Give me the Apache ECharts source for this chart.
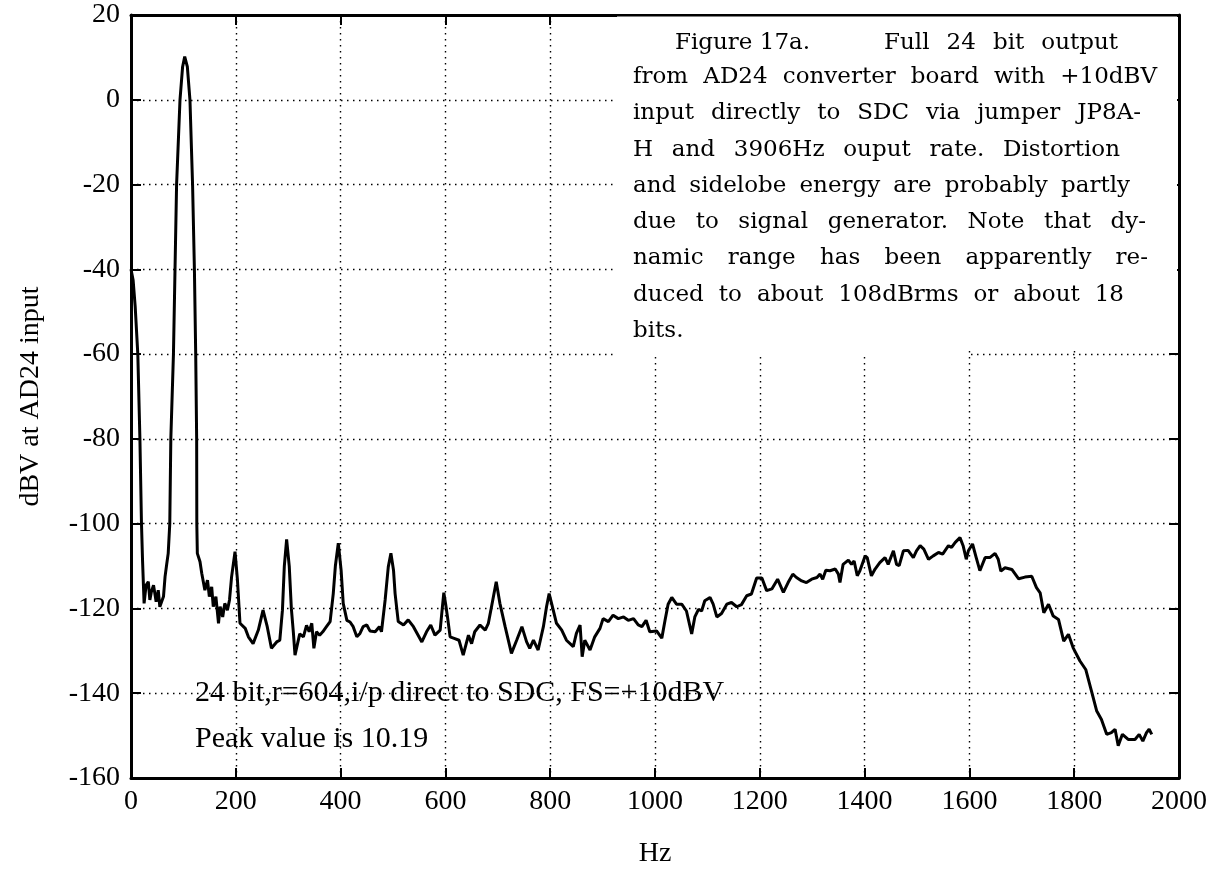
<!DOCTYPE html>
<html>
<head>
<meta charset="utf-8">
<title>Figure 17a - AD24 full 24 bit output</title>
<script src="https://cdn.jsdelivr.net/npm/echarts@6/dist/echarts.min.js"></script>
<style>
  html, body { margin: 0; padding: 0; background: #fff; }
  #chart { width: 1214px; height: 880px; }
</style>
</head>
<body>
<div id="chart"></div>
<script>
// spectrum: frequency (Hz) and level (dBV at AD24 input)
const freqHz = [
  0, 4, 8, 13, 17, 20, 22, 25, 27, 29, 33, 36, 39, 43, 48, 52, 55, 62, 65, 68,
  71, 74, 76, 81, 84, 87, 93.5, 98.5, 102.5, 107.5, 112.5, 117.5, 121, 123.5, 125.3, 125.6, 126.6, 131.7, 135, 141,
  146, 149.5, 154, 157, 162, 167, 170, 175, 179, 184, 188, 192, 198.5, 203, 208, 218, 224, 233, 243, 252,
  260, 268, 278, 284, 289, 292.6, 297, 302, 306, 310, 313, 322, 329, 335, 340, 345, 349, 354, 360, 366,
  373, 380, 386, 390, 395.6, 401, 405, 412, 418, 424, 431, 437, 443, 450, 456, 466, 474, 478, 485, 491,
  496, 501, 504, 510, 520, 529, 539, 555, 564, 572, 580, 590, 594, 597, 600.5, 604, 609, 618, 626, 634,
  644, 650, 656, 666, 676, 682, 688, 697, 704, 714, 726, 736, 746, 755, 761, 768, 777, 787, 793, 798,
  805, 812, 822, 831, 844, 850, 857, 861, 866, 876, 885, 895, 901, 911, 920, 930, 940, 949, 959, 968,
  975, 983, 990, 1003, 1013, 1019, 1025, 1032, 1041, 1051, 1060, 1070, 1076, 1083, 1089, 1095, 1105, 1111, 1118, 1127,
  1137, 1146, 1156, 1165, 1175, 1184, 1194, 1204, 1213, 1223, 1234, 1245, 1254, 1263, 1270, 1280, 1289, 1299, 1309, 1315,
  1320, 1326, 1334, 1344, 1350, 1353, 1359, 1369, 1375, 1380, 1386, 1391, 1401, 1405, 1413, 1420, 1429, 1439, 1445, 1455,
  1461, 1466, 1474, 1483, 1493, 1499, 1506, 1513, 1522, 1531, 1541, 1549, 1560, 1566, 1573, 1582, 1588, 1594, 1598, 1606,
  1613, 1620, 1630, 1639, 1649, 1655, 1660, 1668, 1681, 1694, 1706, 1719, 1728, 1735, 1742, 1751, 1760, 1770, 1780, 1789,
  1798, 1811, 1822, 1833, 1843, 1852, 1862, 1871, 1878, 1884, 1892, 1903, 1916, 1924, 1931, 1938, 1943, 1948
];
const levelDbv = [
  -40, -42.5, -48.8, -60, -80, -100, -108.6, -118.8, -116.5, -114.5, -113.7, -118, -116, -114.5, -118.4, -115.7, -119.6, -117.2, -112.5, -109.7,
  -107, -100, -80, -60, -40, -20, 0, 7.8, 10.19, 7.8, 0, -20, -40, -60, -80, -100, -107, -109, -111.7, -115.7,
  -113.3, -117.2, -114.9, -119.6, -117.2, -123.5, -119.6, -122, -118.8, -120.4, -118, -112.5, -106.6, -113, -123.5, -124.7, -126.7, -128.3, -125.1, -120.4,
  -124.3, -129.4, -127.9, -127.5, -120.4, -110, -103.7, -110, -120, -125.9, -131, -126, -126.7, -124, -125.5, -123.5, -129.4, -125.5, -126.3, -125.5,
  -124.3, -123.1, -116.5, -110, -104.6, -111, -118.8, -122.8, -123.2, -124.3, -126.7, -125.9, -124.3, -123.9, -125.3, -125.5, -124.3, -125.5, -118, -110.2,
  -107, -111, -116.5, -123.1, -123.9, -122.7, -124.3, -127.9, -125.5, -123.9, -126.3, -125.1, -120, -116.3, -119, -122, -126.7, -127.1, -127.5, -131,
  -126.3, -128.3, -125.5, -123.9, -125.1, -123.5, -119.6, -113.7, -118.8, -124.3, -130.6, -127.5, -124.3, -127.9, -129.4, -127.5, -129.8, -124.3, -119.6, -116.5,
  -120, -123.5, -125.1, -127.5, -129, -125.9, -123.9, -131.4, -127.5, -129.8, -126.7, -124.7, -122.4, -123.1, -121.6, -122.4, -122, -122.8, -122.4, -123.9,
  -124.3, -122.8, -125.5, -125.3, -127, -122.9, -119, -117.4, -119, -119, -120.6, -126, -122, -120.2, -120.6, -118.2, -117.4, -119, -122, -121.2,
  -119, -118.6, -119.6, -119.1, -117, -116.6, -112.8, -112.8, -115.8, -115.4, -113.1, -116.2, -113.9, -111.9, -112.7, -113.5, -113.9, -113.1, -112.7, -111.9,
  -113.1, -111, -111.1, -110.7, -111.9, -113.9, -109.6, -108.6, -109.6, -108.8, -112.3, -111.1, -107.6, -108, -112.3, -110.7, -109.2, -108, -109.6, -106.4,
  -109.6, -109.9, -106.4, -106.3, -108, -106.4, -105.2, -106, -108.4, -107.6, -106.8, -107.2, -105.2, -105.6, -104.4, -103.3, -105.2, -108.4, -106.4, -104.8,
  -108, -111.1, -108, -108, -107, -108.4, -111.2, -110.4, -110.8, -113, -112.6, -112.4, -115.1, -116.3, -121, -119, -121.8, -122.6, -127.7, -126.1,
  -129.3, -132.4, -134.4, -139.5, -144.2, -146.2, -149.7, -149.3, -148.5, -152.4, -149.7, -150.9, -150.9, -149.7, -151.3, -149.3, -148.5, -149.7
];

// caption block, one entry per printed line
const captionHead = ['Figure 17a.', 'Full 24 bit output'];
const captionLines = [
  'from AD24 converter board with +10dBV',
  'input directly to SDC via jumper JP8A-',
  'H and 3906Hz ouput rate. Distortion',
  'and sidelobe energy are probably partly',
  'due to signal generator. Note that dy-',
  'namic range has been apparently re-',
  'duced to about 108dBrms or about 18',
  'bits.'
];
const plotNotes = ['24 bit,r=604,i/p direct to SDC, FS=+10dBV', 'Peak value is 10.19'];

const spectrum = freqHz.map((f, i) => [f, levelDbv[i]]);

const serif = '"Liberation Serif", "Times New Roman", serif';
const noteFont = '23px "DejaVu Serif"';
const measure = document.createElement('canvas').getContext('2d');
measure.font = noteFont;

// place the words of one line so that it fills x0..x1 (justified like the print)
const justify = (text, x0, x1, y) => {
  const words = text.split(' ');
  const widths = words.map(w => measure.measureText(w).width);
  const used = widths.reduce((a, b) => a + b, 0);
  const gap = words.length > 1 ? Math.max(6, (x1 - x0 - used) / (words.length - 1)) : 0;
  let x = x0;
  return words.map((w, i) => {
    const el = {
      type: 'text', x: x, y: y, z: 5,
      style: { text: w, font: noteFont, fill: '#000', textVerticalAlign: 'middle', verticalAlign: 'middle' }
    };
    x += widths[i] + gap;
    return el;
  });
};

const lineRight = [1157, 1141, 1120, 1130, 1146, 1148, 1124];
const lineY = [77, 113, 150, 186, 222, 258, 295, 331];

let captionEls = [
  { type: 'text', x: 675, y: 43, z: 5, style: { text: captionHead[0], font: noteFont, fill: '#000', textVerticalAlign: 'middle', verticalAlign: 'middle' } }
].concat(justify(captionHead[1], 884, 1118, 43));
captionLines.forEach((line, i) => {
  const right = i < lineRight.length ? lineRight[i] : 633;
  captionEls = captionEls.concat(justify(line, 633, right, lineY[i]));
});

const chart = echarts.init(document.getElementById('chart'));

const frame = { show: true, onZero: false, lineStyle: { color: '#000', width: 3 } };
const inTicks = { show: true, inside: true, length: 10, lineStyle: { color: '#000', width: 2 } };
const dots = { show: true, lineStyle: { color: '#000', width: 1.4, type: [1.5, 4.5] } };
const tickText = { fontFamily: serif, fontSize: 28, color: '#000', formatter: v => String(v) };

const option = {
  animation: false,
  backgroundColor: '#fff',
  grid: { left: 131, right: 35, top: 15, bottom: 102 },
  xAxis: [
    {
      type: 'value', min: 0, max: 2000, interval: 200,
      name: 'Hz', nameLocation: 'middle', nameGap: 62,
      nameTextStyle: { fontFamily: serif, fontSize: 28, color: '#000' },
      axisLine: frame, axisTick: inTicks, splitLine: dots,
      axisLabel: Object.assign({ margin: 10 }, tickText)
    },
    {
      type: 'value', position: 'top', min: 0, max: 2000, interval: 200,
      axisLine: frame, axisTick: inTicks, splitLine: { show: false }, axisLabel: { show: false }
    }
  ],
  yAxis: [
    {
      type: 'value', min: -160, max: 20, interval: 20,
      name: 'dBV at AD24 input', nameLocation: 'middle', nameGap: 86,
      nameTextStyle: { fontFamily: serif, fontSize: 28, color: '#000' },
      axisLine: frame, axisTick: inTicks, splitLine: dots,
      axisLabel: Object.assign({ margin: 11 }, tickText)
    },
    {
      type: 'value', position: 'right', min: -160, max: 20, interval: 20,
      axisLine: frame, axisTick: inTicks, splitLine: { show: false }, axisLabel: { show: false }
    }
  ],
  series: [
    {
      type: 'line',
      data: spectrum,
      showSymbol: false,
      z: 3,
      lineStyle: { color: '#000', width: 3 },
      silent: true
    }
  ],
  graphic: [
    // white panel behind the caption hides grid lines and ticks like in the print
    { type: 'rect', z: 1, shape: { x: 617, y: 16.5, width: 560, height: 333 }, style: { fill: '#fff' } },
    { type: 'rect', z: 1, shape: { x: 617, y: 349, width: 351, height: 8 }, style: { fill: '#fff' } },
    { type: 'text', x: 195, y: 693, z: 5, style: { text: plotNotes[0], font: '30px ' + serif, fill: '#000', textVerticalAlign: 'middle', verticalAlign: 'middle' } },
    { type: 'text', x: 195, y: 739, z: 5, style: { text: plotNotes[1], font: '30px ' + serif, fill: '#000', textVerticalAlign: 'middle', verticalAlign: 'middle' } }
  ].concat(captionEls)
};

chart.setOption(option);
</script>
</body>
</html>
